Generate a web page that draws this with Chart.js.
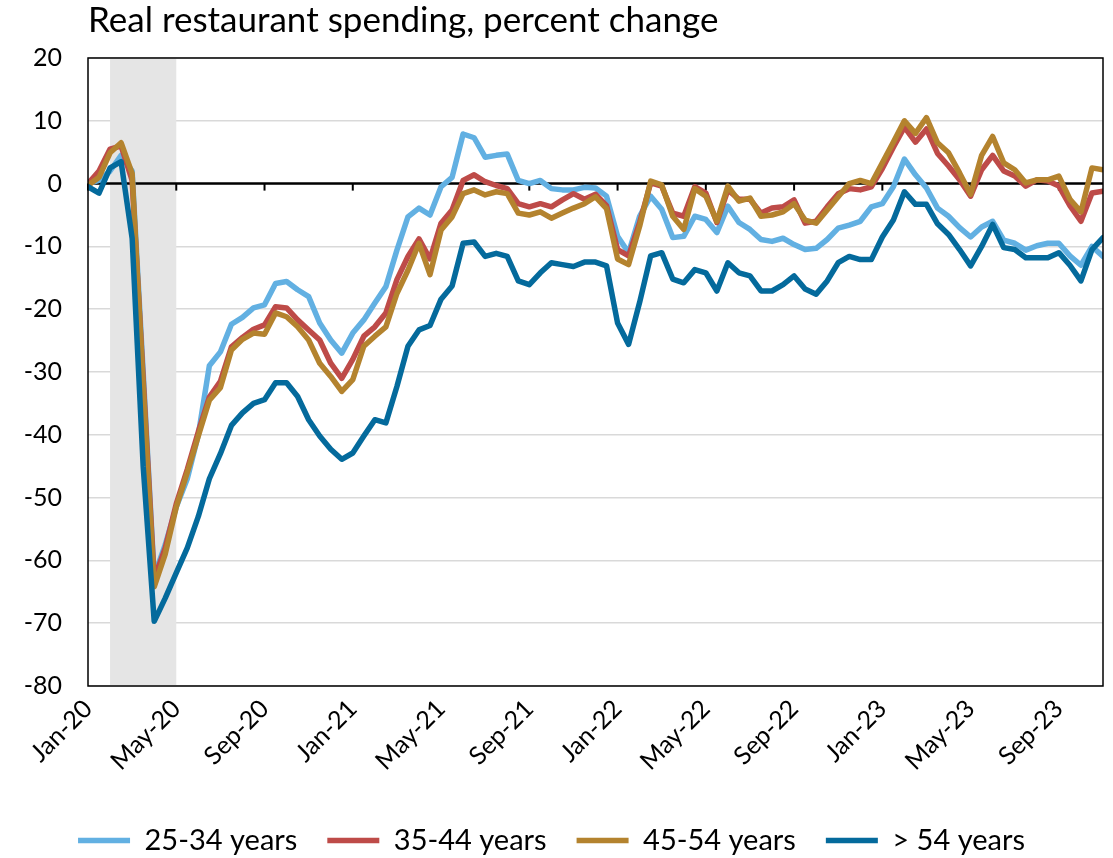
<!DOCTYPE html>
<html>
<head>
<meta charset="utf-8">
<title>Real restaurant spending, percent change</title>
<script src="https://cdn.jsdelivr.net/npm/chart.js@4.4.0/dist/chart.umd.min.js"></script>
<style>
    html, body { margin: 0; padding: 0; background: #fff; }
    #wrap { width: 1113px; height: 858px; }
</style>
</head>
<body>
<div id="wrap"><canvas id="chart" width="1113" height="858"></canvas></div>
<script>
// Half-monthly readings, starting Jan-20 (month 0) and ending at month 46
const stepMonths = 0.5;

const age25to34 = [
    0, 0.5, 2, 4.5, 2, -30, -62.5, -57.5, -51.5, -47,
    -40, -29, -26.8, -22.4, -21.3, -19.8, -19.3, -15.9, -15.6, -16.9,
    -18, -22.2, -24.9, -27, -23.8, -21.7, -19, -16.4, -10.6, -5.3,
    -3.9, -5, -0.5, 1, 7.9, 7.3, 4.2, 4.5, 4.7, 0.5,
    0, 0.5, -0.8, -1, -1, -0.6, -0.7, -2, -8.4, -11,
    -5.2, -2, -4.1, -8.6, -8.4, -5.2, -5.7, -7.8, -3.6, -6.2,
    -7.3, -8.9, -9.2, -8.7, -9.7, -10.5, -10.3, -8.9, -7.1, -6.6,
    -6, -3.7, -3.2, -0.5, 3.9, 1.4, -0.7, -3.9, -5.2, -7,
    -8.5, -6.9, -6, -9, -9.5, -10.6, -9.9, -9.5, -9.5, -11.5,
    -13, -10, -11.6
];

const age35to44 = [
    0, 2, 5.5, 6, 0.5, -31, -63, -58, -51, -45.5,
    -39.5, -34, -31.5, -26, -24.5, -23.2, -22.5, -19.6, -19.8, -21.7,
    -23.3, -24.9, -28.6, -31, -28, -24.3, -22.8, -20.6, -15.3, -11.6,
    -8.8, -12, -6.3, -4.2, 0.5, 1.4, 0.3, -0.3, -0.8, -3.2,
    -3.7, -3.2, -3.7, -2.6, -1.6, -2.5, -1.7, -3.5, -10.5, -11.5,
    -6.2, 0.1, -0.4, -4.7, -5.2, -0.5, -1.5, -6.2, -1, -2.5,
    -2.5, -4.7, -3.9, -3.7, -2.6, -6.3, -6, -3.7, -1.6, -0.8,
    -1, -0.5, 2.4, 5.8, 9, 6.6, 8.7, 4.8, 2.8, 0.6,
    -2, 2.2, 4.5, 2, 1.2, -0.4, 0.6, 0.4, -0.4, -3.5,
    -6, -1.5, -1.2
];

const age45to54 = [
    -0.3, 1, 4.9, 6.5, 1.6, -32, -64.2, -59, -51.5, -46,
    -40.2, -34.5, -32.5, -26.5, -24.8, -23.8, -24, -20.6, -21.2, -22.8,
    -24.9, -28.6, -30.7, -33.1, -31.2, -25.9, -24.3, -22.8, -17.5, -13.8,
    -9.5, -14.5, -7.4, -5.3, -1.6, -1, -1.8, -1.3, -1.6, -4.7,
    -5, -4.5, -5.5, -4.7, -3.9, -3.2, -2.1, -4, -12, -12.9,
    -6.8, 0.4, -0.2, -5.2, -7.3, -0.8, -2, -6, -0.4, -2.8,
    -2.3, -5.2, -5, -4.5, -3.2, -5.8, -6.3, -4.2, -2.1, 0,
    0.5, 0, 3.3, 6.6, 10, 8, 10.5, 6.5, 4.9, 1.7,
    -1.7, 4.5, 7.5, 3.3, 2.2, 0.1, 0.6, 0.6, 1.2, -2.5,
    -4.5, 2.5, 2.2
];

const ageOver54 = [
    -0.5, -1.5, 2.5, 3.5, -8.7, -45, -69.7, -66, -62, -58,
    -53, -47, -43, -38.5, -36.5, -35, -34.4, -31.7, -31.7, -33.9,
    -37.6, -40.2, -42.3, -43.9, -42.9, -40.2, -37.6, -38.1, -32.3, -25.9,
    -23.3, -22.6, -18.4, -16.3, -9.5, -9.3, -11.6, -11.1, -11.6, -15.5,
    -16.1, -14.2, -12.6, -12.9, -13.2, -12.5, -12.5, -13.1, -22.2, -25.6,
    -18.9, -11.5, -11, -15.2, -15.8, -13.7, -14.2, -17.1, -12.6, -14.2,
    -14.7, -17.1, -17.1, -16.1, -14.7, -16.8, -17.6, -15.5, -12.6, -11.6,
    -12.1, -12.1, -8.5, -5.8, -1.3, -3.3, -3.3, -6.4, -8.1, -10.5,
    -13.1, -10, -6.5, -10.2, -10.5, -11.8, -11.8, -11.8, -11, -13,
    -15.5, -10.5, -8.6
];

const seriesNames = ['25-34 years', '35-44 years', '45-54 years', '> 54 years'];
const seriesColors = ['#62b0e2', '#be4b48', '#b4832e', '#046a9c'];

const tickMonths = [0, 4, 8, 12, 16, 20, 24, 28, 32, 36, 40, 44];
const tickLabels = ['Jan-20', 'May-20', 'Sep-20', 'Jan-21', 'May-21', 'Sep-21',
                    'Jan-22', 'May-22', 'Sep-22', 'Jan-23', 'May-23', 'Sep-23'];

// Recession shading: Feb-20 through Apr-20
const recessionStart = 1;
const recessionEnd = 4;

const FONT = 'Lato, "Open Sans", sans-serif';

function toPoints(values) {
    return values.map((v, i) => ({ x: i * stepMonths, y: v }));
}

// Grey band, zero line with its month ticks, and the plot frame
const decorations = {
    id: 'decorations',
    beforeDatasetsDraw(chart) {
        const { ctx, chartArea, scales } = chart;
        const x = scales.x, y = scales.y;
        ctx.save();
        ctx.fillStyle = '#e5e5e5';
        const x0 = x.getPixelForValue(recessionStart);
        const x1 = x.getPixelForValue(recessionEnd);
        ctx.fillRect(x0, chartArea.top, x1 - x0, chartArea.bottom - chartArea.top);

        const zy = y.getPixelForValue(0);
        ctx.strokeStyle = '#000';
        ctx.lineWidth = 2.5;
        ctx.beginPath();
        ctx.moveTo(chartArea.left, zy);
        ctx.lineTo(chartArea.right, zy);
        ctx.stroke();
        ctx.lineWidth = 2;
        tickMonths.forEach(m => {
            const px = x.getPixelForValue(m);
            ctx.beginPath();
            ctx.moveTo(px, zy);
            ctx.lineTo(px, zy + 7);
            ctx.stroke();
        });
        ctx.restore();
    },
    afterDatasetsDraw(chart) {
        const { ctx, chartArea } = chart;
        ctx.save();
        ctx.strokeStyle = '#000';
        ctx.lineWidth = 1.5;
        ctx.strokeRect(chartArea.left, chartArea.top,
            chartArea.right - chartArea.left, chartArea.bottom - chartArea.top);
        ctx.restore();
    }
};

const allSeries = [age25to34, age35to44, age45to54, ageOver54];

new Chart(document.getElementById('chart'), {
    type: 'line',
    data: {
        datasets: allSeries.map((values, i) => ({
            label: seriesNames[i],
            data: toPoints(values),
            borderColor: seriesColors[i],
            backgroundColor: seriesColors[i],
            borderWidth: 5.5,
            borderCapStyle: 'round',
            borderJoinStyle: 'round',
            pointRadius: 0,
            tension: 0,
            order: allSeries.length - i
        }))
    },
    options: {
        responsive: false,
        animation: false,
        devicePixelRatio: 1,
        layout: { padding: { left: 0, right: 10, top: 0, bottom: -7 } },
        scales: {
            x: {
                type: 'linear',
                min: 0,
                max: 46,
                grid: { display: false, drawTicks: false },
                border: { display: false },
                afterBuildTicks(scale) {
                    scale.ticks = tickMonths.map(v => ({ value: v }));
                },
                afterFit(scale) {
                    scale.height = 110;
                },
                ticks: {
                    autoSkip: false,
                    minRotation: 45,
                    maxRotation: 45,
                    padding: 8,
                    color: '#000',
                    font: { family: FONT, size: 25 },
                    callback: (v) => tickLabels[tickMonths.indexOf(v)]
                }
            },
            y: {
                min: -80,
                max: 20,
                grid: { color: '#d9d9d9', lineWidth: 1.5, drawTicks: false },
                border: { display: false },
                afterFit(scale) {
                    scale.width = 88;
                },
                ticks: {
                    stepSize: 10,
                    padding: 26,
                    color: '#000',
                    font: { family: FONT, size: 25 }
                }
            }
        },
        plugins: {
            title: {
                display: true,
                text: 'Real restaurant spending, percent change',
                align: 'start',
                fullSize: false,
                color: '#000',
                font: { family: FONT, size: 35, weight: 'normal' },
                padding: { top: 0, bottom: 16 }
            },
            legend: {
                position: 'bottom',
                labels: {
                    usePointStyle: true,
                    pointStyle: 'line',
                    pointStyleWidth: 52,
                    padding: 30,
                    color: '#000',
                    font: { family: FONT, size: 29 },
                    sort: (a, b) => a.datasetIndex - b.datasetIndex
                }
            },
            tooltip: { enabled: false }
        }
    },
    plugins: [decorations]
});
</script>
</body>
</html>
